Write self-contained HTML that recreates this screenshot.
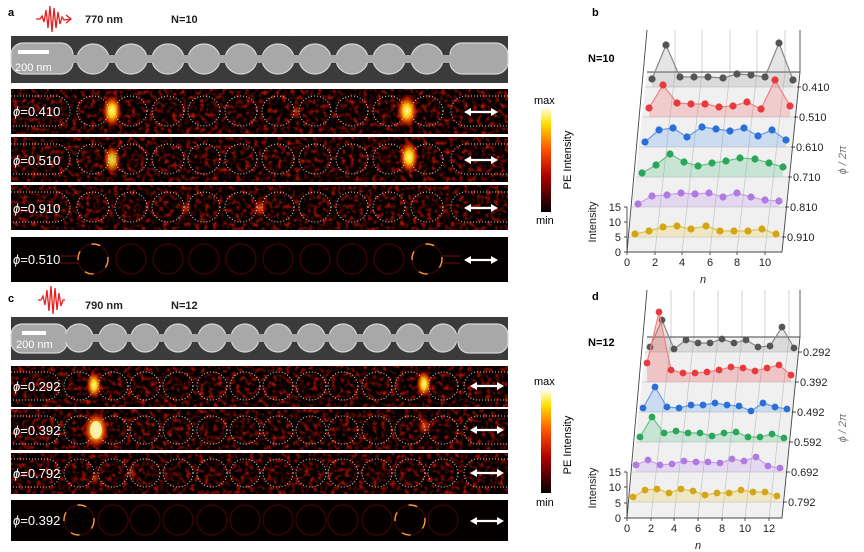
<!DOCTYPE html>
<html><head><meta charset="utf-8"><style>
html,body{margin:0;padding:0;background:#fff;}
svg{display:block;font-family:"Liberation Sans",Arial,sans-serif;}
</style></head><body>
<svg width="864" height="552" viewBox="0 0 864 552" xmlns="http://www.w3.org/2000/svg">
<defs>
<filter id="nz" x="0" y="0" width="100%" height="100%" color-interpolation-filters="sRGB">
<feTurbulence type="fractalNoise" baseFrequency="0.22" numOctaves="2" seed="3"/>
<feColorMatrix values="1.8 0 0 0 -0.8  0.25 0 0 0 -0.13  0 0 0 0 0  0 0 0 0 1"/>
</filter>
<filter id="nz2" x="0" y="0" width="100%" height="100%" color-interpolation-filters="sRGB">
<feTurbulence type="fractalNoise" baseFrequency="0.5" numOctaves="2" seed="8"/>
<feColorMatrix values="0 0 0 0 0.3  0 0 0 0 0.3  0 0 0 0 0.3  0.9 0 0 0 -0.3"/>
</filter>
<radialGradient id="hot"><stop offset="0" stop-color="#fff8a0"/><stop offset="0.35" stop-color="#ffd000"/><stop offset="0.7" stop-color="#e03000" stop-opacity="0.8"/><stop offset="1" stop-color="#a00000" stop-opacity="0"/></radialGradient>
<radialGradient id="warm"><stop offset="0" stop-color="#ff6010"/><stop offset="0.6" stop-color="#c01000" stop-opacity="0.6"/><stop offset="1" stop-color="#800000" stop-opacity="0"/></radialGradient>
<linearGradient id="cb" x1="0" y1="1" x2="0" y2="0"><stop offset="0" stop-color="#000"/><stop offset="0.35" stop-color="#b00000"/><stop offset="0.6" stop-color="#ff5000"/><stop offset="0.85" stop-color="#ffe000"/><stop offset="1" stop-color="#ffffe8"/></linearGradient>
<g id="arr"><line x1="-12" y1="0" x2="12" y2="0" stroke="#fff" stroke-width="2.2"/><path d="M-17,0 L-10,-4 L-10,4Z M17,0 L10,-4 L10,4Z" fill="#fff"/></g>
<ellipse id="dc" rx="16" ry="15" fill="none" stroke="#ddd" stroke-width="1" stroke-dasharray="1 2"/>
<ellipse id="dc2" rx="15" ry="14" fill="none" stroke="#ddd" stroke-width="1" stroke-dasharray="1 2"/>
<ellipse id="sc" rx="15" ry="15" fill="none" stroke="#3a0601" stroke-width="1.3"/>
<ellipse id="sch" rx="15" ry="15" fill="none" stroke="#ff9a30" stroke-width="1.4" stroke-dasharray="9 14"/>
</defs>

<text x="8" y="16" font-size="11" font-weight="bold">a</text>
<path d="M36,19 L40,19 L42,16 L44,22 L46,10 L48,28 L50,6 L52,32 L54,8 L56,28 L58,12 L60,24 L62,17 L64,20 L71,19 M66,15 L71,19 L66,23" fill="none" stroke="#e52020" stroke-width="1.3"/>
<text x="85" y="23" font-size="11" font-weight="bold" fill="#222">770 nm</text>
<text x="171" y="23" font-size="11" font-weight="bold" fill="#222">N=10</text>

<rect x="11" y="36" width="497" height="47" fill="#3a3a3a"/>
<rect x="11" y="36" width="497" height="47" filter="url(#nz2)" opacity="0.5"/>
<g fill="#a8a8a8" stroke="#d6d6d6" stroke-width="1.2">
<rect x="11" y="43" width="62" height="31" rx="12"/>
<rect x="450" y="43" width="58" height="31" rx="12"/>
<ellipse cx="93" cy="59" rx="16" ry="15"/><ellipse cx="131" cy="59" rx="16" ry="15"/><ellipse cx="168" cy="59" rx="16" ry="15"/><ellipse cx="204" cy="59" rx="16" ry="15"/><ellipse cx="241" cy="59" rx="16" ry="15"/><ellipse cx="278" cy="59" rx="16" ry="15"/><ellipse cx="315" cy="59" rx="16" ry="15"/><ellipse cx="352" cy="59" rx="16" ry="15"/><ellipse cx="389" cy="59" rx="16" ry="15"/><ellipse cx="427" cy="59" rx="16" ry="15"/>
</g>
<rect x="60" y="55" width="400" height="8" fill="#a8a8a8"/>
<rect x="18" y="50" width="31" height="4" fill="#fff"/>
<text x="15" y="71" font-size="11" fill="#fff">200 nm</text>

<g>
<rect x="11" y="89" width="497" height="45" fill="#0a0000"/><rect x="11" y="89" width="497" height="45" filter="url(#nz)"/>
<rect x="11" y="137" width="497" height="45" fill="#0a0000"/><rect x="11" y="137" width="497" height="45" filter="url(#nz)"/>
<rect x="11" y="185" width="497" height="45" fill="#0a0000"/><rect x="11" y="185" width="497" height="45" filter="url(#nz)"/>
</g>
<ellipse cx="112" cy="111" rx="10" ry="17" fill="url(#hot)"/><ellipse cx="407" cy="111" rx="11" ry="17" fill="url(#hot)"/>
<ellipse cx="112" cy="160" rx="9" ry="15" fill="url(#hot)" opacity="0.85"/><ellipse cx="409" cy="157" rx="10" ry="17" fill="url(#hot)"/>
<ellipse cx="260" cy="208" rx="8" ry="10" fill="url(#warm)"/><ellipse cx="186" cy="208" rx="6" ry="8" fill="url(#warm)" opacity="0.7"/><ellipse cx="296" cy="111" rx="5" ry="8" fill="url(#warm)" opacity="0.7"/>
<g>
<use href="#dc" x="93" y="111"/><use href="#dc" x="131" y="111"/><use href="#dc" x="168" y="111"/><use href="#dc" x="204" y="111"/><use href="#dc" x="241" y="111"/><use href="#dc" x="278" y="111"/><use href="#dc" x="315" y="111"/><use href="#dc" x="352" y="111"/><use href="#dc" x="389" y="111"/><use href="#dc" x="427" y="111"/>
<use href="#dc" x="93" y="159"/><use href="#dc" x="131" y="159"/><use href="#dc" x="168" y="159"/><use href="#dc" x="204" y="159"/><use href="#dc" x="241" y="159"/><use href="#dc" x="278" y="159"/><use href="#dc" x="315" y="159"/><use href="#dc" x="352" y="159"/><use href="#dc" x="389" y="159"/><use href="#dc" x="427" y="159"/>
<use href="#dc" x="93" y="207"/><use href="#dc" x="131" y="207"/><use href="#dc" x="168" y="207"/><use href="#dc" x="204" y="207"/><use href="#dc" x="241" y="207"/><use href="#dc" x="278" y="207"/><use href="#dc" x="315" y="207"/><use href="#dc" x="352" y="207"/><use href="#dc" x="389" y="207"/><use href="#dc" x="427" y="207"/>
</g>
<g fill="none" stroke="#ccc" stroke-width="1" stroke-dasharray="1 2">
<path d="M11,96 H55 A15,15 0 0 1 55,126 H11"/><path d="M508,96 H466 A15,15 0 0 0 466,126 H508"/>
<path d="M11,144 H55 A15,15 0 0 1 55,174 H11"/><path d="M508,144 H466 A15,15 0 0 0 466,174 H508"/>
<path d="M11,192 H55 A15,15 0 0 1 55,222 H11"/><path d="M508,192 H466 A15,15 0 0 0 466,222 H508"/>
</g>
<g fill="#fff" font-size="13"><text x="13" y="116"><tspan font-style="italic">ϕ</tspan>=0.410</text><text x="13" y="165"><tspan font-style="italic">ϕ</tspan>=0.510</text><text x="13" y="213"><tspan font-style="italic">ϕ</tspan>=0.910</text></g>
<use href="#arr" x="481" y="112"/><use href="#arr" x="481" y="160"/><use href="#arr" x="481" y="208"/>

<rect x="11" y="237" width="497" height="45" fill="#040000"/>
<g>
<use href="#sc" x="93" y="259"/><use href="#sc" x="131" y="259"/><use href="#sc" x="168" y="259"/><use href="#sc" x="204" y="259"/><use href="#sc" x="241" y="259"/><use href="#sc" x="278" y="259"/><use href="#sc" x="315" y="259"/><use href="#sc" x="352" y="259"/><use href="#sc" x="389" y="259"/><use href="#sc" x="427" y="259"/>
<use href="#sch" x="93" y="259"/><use href="#sch" x="427" y="259"/>
</g>
<path d="M60,256 H78 M60,263 H78 M442,256 H460 M442,263 H460" stroke="#6a1205" stroke-width="1"/>
<text x="13" y="264" font-size="13" fill="#fff"><tspan font-style="italic">ϕ</tspan>=0.510</text>
<use href="#arr" x="481" y="260"/>

<rect x="541" y="108" width="10" height="104" fill="url(#cb)"/>
<text x="534" y="104" font-size="11">max</text>
<text x="536" y="224" font-size="11">min</text>
<text transform="translate(571,160) rotate(-90)" font-size="11" text-anchor="middle">PE Intensity</text>

<text x="8" y="302" font-size="11" font-weight="bold">c</text>
<path d="M38,300 L41,300 L43,296 L45,305 L47,290 L49,311 L51,286 L53,314 L55,288 L57,310 L59,293 L61,306 L63,300 L65,300" fill="none" stroke="#e52020" stroke-width="1.3"/>
<text x="85" y="309" font-size="11" font-weight="bold" fill="#222">790 nm</text>
<text x="171" y="309" font-size="11" font-weight="bold" fill="#222">N=12</text>

<rect x="11" y="317" width="497" height="43" fill="#3a3a3a"/>
<rect x="11" y="317" width="497" height="43" filter="url(#nz2)" opacity="0.5"/>
<g fill="#a8a8a8" stroke="#d6d6d6" stroke-width="1.2">
<rect x="11" y="324" width="56" height="29" rx="11"/>
<rect x="458" y="324" width="50" height="29" rx="11"/>
<ellipse cx="79" cy="338" rx="14" ry="14"/><ellipse cx="113" cy="338" rx="14" ry="14"/><ellipse cx="145" cy="338" rx="14" ry="14"/><ellipse cx="178" cy="338" rx="14" ry="14"/><ellipse cx="212" cy="338" rx="14" ry="14"/><ellipse cx="245" cy="338" rx="14" ry="14"/><ellipse cx="278" cy="338" rx="14" ry="14"/><ellipse cx="311" cy="338" rx="14" ry="14"/><ellipse cx="343" cy="338" rx="14" ry="14"/><ellipse cx="377" cy="338" rx="14" ry="14"/><ellipse cx="410" cy="338" rx="14" ry="14"/><ellipse cx="443" cy="338" rx="14" ry="14"/>
</g>
<rect x="60" y="334" width="405" height="8" fill="#a8a8a8"/>
<rect x="22" y="331" width="24" height="4" fill="#fff"/>
<text x="16" y="348" font-size="11" fill="#fff">200 nm</text>

<g>
<rect x="11" y="366" width="497" height="41" fill="#0a0000"/><rect x="11" y="366" width="497" height="41" filter="url(#nz)"/>
<rect x="11" y="409" width="497" height="41" fill="#0a0000"/><rect x="11" y="409" width="497" height="41" filter="url(#nz)"/>
<rect x="11" y="453" width="497" height="41" fill="#0a0000"/><rect x="11" y="453" width="497" height="41" filter="url(#nz)"/>
</g>
<ellipse cx="94" cy="385" rx="8" ry="14" fill="url(#hot)"/><ellipse cx="424" cy="384" rx="8" ry="14" fill="url(#hot)"/>
<ellipse cx="96" cy="430" rx="13" ry="19" fill="url(#hot)"/><ellipse cx="96" cy="430" rx="6" ry="9" fill="#fff6c0" opacity="0.8"/><ellipse cx="424" cy="426" rx="7" ry="10" fill="url(#warm)"/>
<ellipse cx="95" cy="478" rx="5" ry="8" fill="url(#warm)" opacity="0.8"/><ellipse cx="131" cy="472" rx="5" ry="8" fill="url(#warm)" opacity="0.6"/>
<g>
<use href="#dc2" x="79" y="386"/><use href="#dc2" x="113" y="386"/><use href="#dc2" x="145" y="386"/><use href="#dc2" x="178" y="386"/><use href="#dc2" x="212" y="386"/><use href="#dc2" x="245" y="386"/><use href="#dc2" x="278" y="386"/><use href="#dc2" x="311" y="386"/><use href="#dc2" x="343" y="386"/><use href="#dc2" x="377" y="386"/><use href="#dc2" x="410" y="386"/><use href="#dc2" x="443" y="386"/>
<use href="#dc2" x="79" y="430"/><use href="#dc2" x="113" y="430"/><use href="#dc2" x="145" y="430"/><use href="#dc2" x="178" y="430"/><use href="#dc2" x="212" y="430"/><use href="#dc2" x="245" y="430"/><use href="#dc2" x="278" y="430"/><use href="#dc2" x="311" y="430"/><use href="#dc2" x="343" y="430"/><use href="#dc2" x="377" y="430"/><use href="#dc2" x="410" y="430"/><use href="#dc2" x="443" y="430"/>
<use href="#dc2" x="79" y="473"/><use href="#dc2" x="113" y="473"/><use href="#dc2" x="145" y="473"/><use href="#dc2" x="178" y="473"/><use href="#dc2" x="212" y="473"/><use href="#dc2" x="245" y="473"/><use href="#dc2" x="278" y="473"/><use href="#dc2" x="311" y="473"/><use href="#dc2" x="343" y="473"/><use href="#dc2" x="377" y="473"/><use href="#dc2" x="410" y="473"/><use href="#dc2" x="443" y="473"/>
</g>
<g fill="none" stroke="#ccc" stroke-width="1" stroke-dasharray="1 2">
<path d="M11,372 H46 A14,14 0 0 1 46,400 H11"/><path d="M508,372 H478 A14,14 0 0 0 478,400 H508"/>
<path d="M11,416 H46 A14,14 0 0 1 46,444 H11"/><path d="M508,416 H478 A14,14 0 0 0 478,444 H508"/>
<path d="M11,459 H46 A14,14 0 0 1 46,487 H11"/><path d="M508,459 H478 A14,14 0 0 0 478,487 H508"/>
</g>
<g fill="#fff" font-size="13"><text x="13" y="391"><tspan font-style="italic">ϕ</tspan>=0.292</text><text x="13" y="435"><tspan font-style="italic">ϕ</tspan>=0.392</text><text x="13" y="478"><tspan font-style="italic">ϕ</tspan>=0.792</text></g>
<use href="#arr" x="487" y="386"/><use href="#arr" x="487" y="430"/><use href="#arr" x="487" y="473"/>

<rect x="11" y="500" width="497" height="41" fill="#040000"/>
<g>
<use href="#sc" x="79" y="520"/><use href="#sc" x="113" y="520"/><use href="#sc" x="145" y="520"/><use href="#sc" x="178" y="520"/><use href="#sc" x="212" y="520"/><use href="#sc" x="245" y="520"/><use href="#sc" x="278" y="520"/><use href="#sc" x="311" y="520"/><use href="#sc" x="343" y="520"/><use href="#sc" x="377" y="520"/><use href="#sc" x="410" y="520"/><use href="#sc" x="443" y="520"/>
<use href="#sch" x="79" y="520"/><use href="#sch" x="410" y="520"/>
</g>
<text x="13" y="525" font-size="13" fill="#fff"><tspan font-style="italic">ϕ</tspan>=0.392</text>
<use href="#arr" x="487" y="521"/>

<rect x="541" y="390" width="10" height="103" fill="url(#cb)"/>
<text x="534" y="385" font-size="11">max</text>
<text x="536" y="506" font-size="11">min</text>
<text transform="translate(571,445) rotate(-90)" font-size="11" text-anchor="middle">PE Intensity</text>

<text x="592" y="16" font-size="11" font-weight="bold">b</text>
<text x="588" y="62" font-size="11" font-weight="bold">N=10</text>
<rect x="647" y="30" width="153" height="42" fill="#fff"/>
<polygon points="647,72 800,72 782,252 627,252" fill="#f0f0f0"/>
<g stroke="#c8c8c8" stroke-width="0.8" fill="none">
<path d="M675,30 V72 L655,252 M702,30 V72 L682,252 M730,30 V72 L710,252 M757,30 V72 L737,252 M785,30 V72 L765,252"/>
<path d="M645,87 H797 M642,117 H794 M639,147 H791 M636,177 H788 M632,207 H785 M629,237 H782"/>
</g>
<g stroke="#444" stroke-width="0.9" fill="none">
<path d="M647,30 L627,252 H782 L800,72 V30 M647,72 H800"/>
<path d="M627,252 V207 M624,252 H627 M624,237 H627 M624,222 H627 M624,207 H627"/>
<path d="M797,87 h4 M794,117 h4 M791,147 h4 M788,177 h4 M785,207 h4 M782,237 h4"/>
<path d="M627,252 v3 M655,252 v3 M682,252 v3 M710,252 v3 M737,252 v3 M765,252 v3"/>
</g>
<g font-size="11" fill="#222">
<g text-anchor="end"><text x="621" y="256">0</text><text x="621" y="241">5</text><text x="621" y="226">10</text><text x="621" y="211">15</text></g>
<text x="802" y="91">0.410</text><text x="799" y="121">0.510</text><text x="796" y="151">0.610</text><text x="793" y="181">0.710</text><text x="790" y="211">0.810</text><text x="787" y="241">0.910</text>
<g text-anchor="middle"><text x="627" y="266">0</text><text x="655" y="266">2</text><text x="682" y="266">4</text><text x="710" y="266">6</text><text x="737" y="266">8</text><text x="765" y="266">10</text></g>
<text x="703" y="283" font-style="italic" text-anchor="middle">n</text>
<text transform="translate(596,222) rotate(-90)" text-anchor="middle">Intensity</text>
<text transform="translate(846,160) rotate(-90)" text-anchor="middle" fill="#777" font-style="italic">ϕ / 2π</text>
</g>
<g stroke-width="1.2">
<polygon points="652,79 666,45 680,77 694,77 708,77 723,78 737,74 751,75 765,77 779,43 793,80 793,87 652,87" fill="#999" fill-opacity="0.25" stroke="none"/>
<polyline points="652,79 666,45 680,77 694,77 708,77 723,78 737,74 751,75 765,77 779,43 793,80" fill="none" stroke="#888"/>
<g fill="#555"><circle cx="652" cy="79" r="3.6"/><circle cx="666" cy="45" r="3.6"/><circle cx="680" cy="77" r="3.6"/><circle cx="694" cy="77" r="3.6"/><circle cx="708" cy="77" r="3.6"/><circle cx="723" cy="78" r="3.6"/><circle cx="737" cy="74" r="3.6"/><circle cx="751" cy="75" r="3.6"/><circle cx="765" cy="77" r="3.6"/><circle cx="779" cy="43" r="3.6"/><circle cx="793" cy="80" r="3.6"/></g>

<polygon points="649,108 663,85 677,103 691,104 705,104 719,107 733,106 747,102 761,109 775,80 790,106 790,117 649,117" fill="#f06060" fill-opacity="0.25" stroke="none"/>
<polyline points="649,108 663,85 677,103 691,104 705,104 719,107 733,106 747,102 761,109 775,80 790,106" fill="none" stroke="#f08080"/>
<g fill="#e8393c"><circle cx="649" cy="108" r="3.6"/><circle cx="663" cy="85" r="3.6"/><circle cx="677" cy="103" r="3.6"/><circle cx="691" cy="104" r="3.6"/><circle cx="705" cy="104" r="3.6"/><circle cx="719" cy="107" r="3.6"/><circle cx="733" cy="106" r="3.6"/><circle cx="747" cy="102" r="3.6"/><circle cx="761" cy="109" r="3.6"/><circle cx="775" cy="80" r="3.6"/><circle cx="790" cy="106" r="3.6"/></g>

<polygon points="645,142 659,130 673,128 687,137 702,127 716,129 730,131 744,128 758,136 772,130 786,140 786,147 645,147" fill="#5a9af0" fill-opacity="0.25" stroke="none"/>
<polyline points="645,142 659,130 673,128 687,137 702,127 716,129 730,131 744,128 758,136 772,130 786,140" fill="none" stroke="#6a9ae6"/>
<g fill="#2a6fd6"><circle cx="645" cy="142" r="3.6"/><circle cx="659" cy="130" r="3.6"/><circle cx="673" cy="128" r="3.6"/><circle cx="687" cy="137" r="3.6"/><circle cx="702" cy="127" r="3.6"/><circle cx="716" cy="129" r="3.6"/><circle cx="730" cy="131" r="3.6"/><circle cx="744" cy="128" r="3.6"/><circle cx="758" cy="136" r="3.6"/><circle cx="772" cy="130" r="3.6"/><circle cx="786" cy="140" r="3.6"/></g>

<polygon points="642,173 656,165 670,154 684,162 698,166 712,163 726,161 740,158 755,159 769,163 783,167 783,177 642,177" fill="#50c080" fill-opacity="0.25" stroke="none"/>
<polyline points="642,173 656,165 670,154 684,162 698,166 712,163 726,161 740,158 755,159 769,163 783,167" fill="none" stroke="#6ac08a"/>
<g fill="#2aa65a"><circle cx="642" cy="173" r="3.6"/><circle cx="656" cy="165" r="3.6"/><circle cx="670" cy="154" r="3.6"/><circle cx="684" cy="162" r="3.6"/><circle cx="698" cy="166" r="3.6"/><circle cx="712" cy="163" r="3.6"/><circle cx="726" cy="161" r="3.6"/><circle cx="740" cy="158" r="3.6"/><circle cx="755" cy="159" r="3.6"/><circle cx="769" cy="163" r="3.6"/><circle cx="783" cy="167" r="3.6"/></g>

<polygon points="638,204 652,196 667,195 681,193 695,194 709,193 723,197 737,193 751,197 765,200 779,201 779,207 638,207" fill="#c090f0" fill-opacity="0.25" stroke="none"/>
<polyline points="638,204 652,196 667,195 681,193 695,194 709,193 723,197 737,193 751,197 765,200 779,201" fill="none" stroke="#c8a0ec"/>
<g fill="#b07be0"><circle cx="638" cy="204" r="3.6"/><circle cx="652" cy="196" r="3.6"/><circle cx="667" cy="195" r="3.6"/><circle cx="681" cy="193" r="3.6"/><circle cx="695" cy="194" r="3.6"/><circle cx="709" cy="193" r="3.6"/><circle cx="723" cy="197" r="3.6"/><circle cx="737" cy="193" r="3.6"/><circle cx="751" cy="197" r="3.6"/><circle cx="765" cy="200" r="3.6"/><circle cx="779" cy="201" r="3.6"/></g>

<polygon points="635,234 649,231 663,227 677,226 691,229 706,226 720,231 734,231 748,231 762,229 776,234 776,237 635,237" fill="#f0d060" fill-opacity="0.3" stroke="none"/>
<polyline points="635,234 649,231 663,227 677,226 691,229 706,226 720,231 734,231 748,231 762,229 776,234" fill="none" stroke="#e0c050"/>
<g fill="#d4a615"><circle cx="635" cy="234" r="3.6"/><circle cx="649" cy="231" r="3.6"/><circle cx="663" cy="227" r="3.6"/><circle cx="677" cy="226" r="3.6"/><circle cx="691" cy="229" r="3.6"/><circle cx="706" cy="226" r="3.6"/><circle cx="720" cy="231" r="3.6"/><circle cx="734" cy="231" r="3.6"/><circle cx="748" cy="231" r="3.6"/><circle cx="762" cy="229" r="3.6"/><circle cx="776" cy="234" r="3.6"/></g>
</g>

<text x="592" y="300" font-size="11" font-weight="bold">d</text>
<text x="588" y="346" font-size="11" font-weight="bold">N=12</text>
<rect x="647" y="290" width="153" height="47" fill="#fff"/>
<polygon points="647,337 800,337 782,518 627,518" fill="#f0f0f0"/>
<g stroke="#c8c8c8" stroke-width="0.8" fill="none">
<path d="M671,290 V337 L651,518 M694,290 V337 L674,518 M718,290 V337 L698,518 M742,290 V337 L722,518 M765,290 V337 L745,518 M789,290 V337 L769,518"/>
<path d="M645,352 H798 M642,382 H795 M639,412 H792 M636,442 H789 M632,472 H786 M629,502 H783"/>
</g>
<g stroke="#444" stroke-width="0.9" fill="none">
<path d="M647,290 L627,518 H782 L800,337 V290 M647,337 H800"/>
<path d="M627,518 V472 M624,518 H627 M624,503 H627 M624,487 H627 M624,472 H627"/>
<path d="M798,352 h4 M795,382 h4 M792,412 h4 M789,442 h4 M786,472 h4 M783,502 h4"/>
<path d="M627,518 v3 M651,518 v3 M674,518 v3 M698,518 v3 M722,518 v3 M745,518 v3 M769,518 v3"/>
</g>
<g font-size="11" fill="#222">
<g text-anchor="end"><text x="621" y="522">0</text><text x="621" y="507">5</text><text x="621" y="491">10</text><text x="621" y="476">15</text></g>
<text x="803" y="356">0.292</text><text x="800" y="386">0.392</text><text x="797" y="416">0.492</text><text x="794" y="446">0.592</text><text x="791" y="476">0.692</text><text x="788" y="506">0.792</text>
<g text-anchor="middle"><text x="627" y="532">0</text><text x="651" y="532">2</text><text x="674" y="532">4</text><text x="698" y="532">6</text><text x="722" y="532">8</text><text x="745" y="532">10</text><text x="769" y="532">12</text></g>
<text x="698" y="549" font-style="italic" text-anchor="middle">n</text>
<text transform="translate(596,488) rotate(-90)" text-anchor="middle">Intensity</text>
<text transform="translate(846,428) rotate(-90)" text-anchor="middle" fill="#777" font-style="italic">ϕ / 2π</text>
</g>
<g stroke-width="1.2">
<polygon points="650,347 662,320 674,349 686,340 698,343 710,343 722,339 734,343 746,340 758,347 770,346 782,327 794,348 794,352 650,352" fill="#999" fill-opacity="0.25" stroke="none"/>
<polyline points="650,347 662,320 674,349 686,340 698,343 710,343 722,339 734,343 746,340 758,347 770,346 782,327 794,348" fill="none" stroke="#888"/>
<g fill="#555"><circle cx="650" cy="347" r="3.4"/><circle cx="662" cy="320" r="3.4"/><circle cx="674" cy="349" r="3.4"/><circle cx="686" cy="340" r="3.4"/><circle cx="698" cy="343" r="3.4"/><circle cx="710" cy="343" r="3.4"/><circle cx="722" cy="339" r="3.4"/><circle cx="734" cy="343" r="3.4"/><circle cx="746" cy="340" r="3.4"/><circle cx="758" cy="347" r="3.4"/><circle cx="770" cy="346" r="3.4"/><circle cx="782" cy="327" r="3.4"/><circle cx="794" cy="348" r="3.4"/></g>

<polygon points="647,363 659,312 671,370 683,373 695,373 707,372 719,370 731,367 743,368 755,371 767,368 779,365 791,375 791,382 647,382" fill="#f06060" fill-opacity="0.3" stroke="none"/>
<polyline points="647,363 659,312 671,370 683,373 695,373 707,372 719,370 731,367 743,368 755,371 767,368 779,365 791,375" fill="none" stroke="#f08080"/>
<g fill="#e8393c"><circle cx="647" cy="363" r="3.4"/><circle cx="659" cy="312" r="3.4"/><circle cx="671" cy="370" r="3.4"/><circle cx="683" cy="373" r="3.4"/><circle cx="695" cy="373" r="3.4"/><circle cx="707" cy="372" r="3.4"/><circle cx="719" cy="370" r="3.4"/><circle cx="731" cy="367" r="3.4"/><circle cx="743" cy="368" r="3.4"/><circle cx="755" cy="371" r="3.4"/><circle cx="767" cy="368" r="3.4"/><circle cx="779" cy="365" r="3.4"/><circle cx="791" cy="375" r="3.4"/></g>

<polygon points="643,408 655,387 667,407 679,408 691,405 703,405 715,403 727,405 739,406 751,411 763,403 775,407 787,409 787,412 643,412" fill="#5a9af0" fill-opacity="0.25" stroke="none"/>
<polyline points="643,408 655,387 667,407 679,408 691,405 703,405 715,403 727,405 739,406 751,411 763,403 775,407 787,409" fill="none" stroke="#6a9ae6"/>
<g fill="#2a6fd6"><circle cx="643" cy="408" r="3.4"/><circle cx="655" cy="387" r="3.4"/><circle cx="667" cy="407" r="3.4"/><circle cx="679" cy="408" r="3.4"/><circle cx="691" cy="405" r="3.4"/><circle cx="703" cy="405" r="3.4"/><circle cx="715" cy="403" r="3.4"/><circle cx="727" cy="405" r="3.4"/><circle cx="739" cy="406" r="3.4"/><circle cx="751" cy="411" r="3.4"/><circle cx="763" cy="403" r="3.4"/><circle cx="775" cy="407" r="3.4"/><circle cx="787" cy="409" r="3.4"/></g>

<polygon points="640,437 652,417 664,433 676,431 688,433 700,433 712,436 724,433 736,432 748,437 760,437 772,434 784,438 784,442 640,442" fill="#50c080" fill-opacity="0.25" stroke="none"/>
<polyline points="640,437 652,417 664,433 676,431 688,433 700,433 712,436 724,433 736,432 748,437 760,437 772,434 784,438" fill="none" stroke="#6ac08a"/>
<g fill="#2aa65a"><circle cx="640" cy="437" r="3.4"/><circle cx="652" cy="417" r="3.4"/><circle cx="664" cy="433" r="3.4"/><circle cx="676" cy="431" r="3.4"/><circle cx="688" cy="433" r="3.4"/><circle cx="700" cy="433" r="3.4"/><circle cx="712" cy="436" r="3.4"/><circle cx="724" cy="433" r="3.4"/><circle cx="736" cy="432" r="3.4"/><circle cx="748" cy="437" r="3.4"/><circle cx="760" cy="437" r="3.4"/><circle cx="772" cy="434" r="3.4"/><circle cx="784" cy="438" r="3.4"/></g>

<polygon points="636,465 648,460 660,465 672,464 684,461 696,462 708,462 720,463 732,459 744,461 756,457 768,466 780,468 780,472 636,472" fill="#c090f0" fill-opacity="0.25" stroke="none"/>
<polyline points="636,465 648,460 660,465 672,464 684,461 696,462 708,462 720,463 732,459 744,461 756,457 768,466 780,468" fill="none" stroke="#c8a0ec"/>
<g fill="#b07be0"><circle cx="636" cy="465" r="3.4"/><circle cx="648" cy="460" r="3.4"/><circle cx="660" cy="465" r="3.4"/><circle cx="672" cy="464" r="3.4"/><circle cx="684" cy="461" r="3.4"/><circle cx="696" cy="462" r="3.4"/><circle cx="708" cy="462" r="3.4"/><circle cx="720" cy="463" r="3.4"/><circle cx="732" cy="459" r="3.4"/><circle cx="744" cy="461" r="3.4"/><circle cx="756" cy="457" r="3.4"/><circle cx="768" cy="466" r="3.4"/><circle cx="780" cy="468" r="3.4"/></g>

<polygon points="633,497 645,490 657,489 669,493 681,489 693,491 705,495 717,493 729,493 741,490 753,492 765,492 777,496 777,502 633,502" fill="#f0d060" fill-opacity="0.3" stroke="none"/>
<polyline points="633,497 645,490 657,489 669,493 681,489 693,491 705,495 717,493 729,493 741,490 753,492 765,492 777,496" fill="none" stroke="#e0c050"/>
<g fill="#d4a615"><circle cx="633" cy="497" r="3.4"/><circle cx="645" cy="490" r="3.4"/><circle cx="657" cy="489" r="3.4"/><circle cx="669" cy="493" r="3.4"/><circle cx="681" cy="489" r="3.4"/><circle cx="693" cy="491" r="3.4"/><circle cx="705" cy="495" r="3.4"/><circle cx="717" cy="493" r="3.4"/><circle cx="729" cy="493" r="3.4"/><circle cx="741" cy="490" r="3.4"/><circle cx="753" cy="492" r="3.4"/><circle cx="765" cy="492" r="3.4"/><circle cx="777" cy="496" r="3.4"/></g>
</g>
</svg>
</body></html>
